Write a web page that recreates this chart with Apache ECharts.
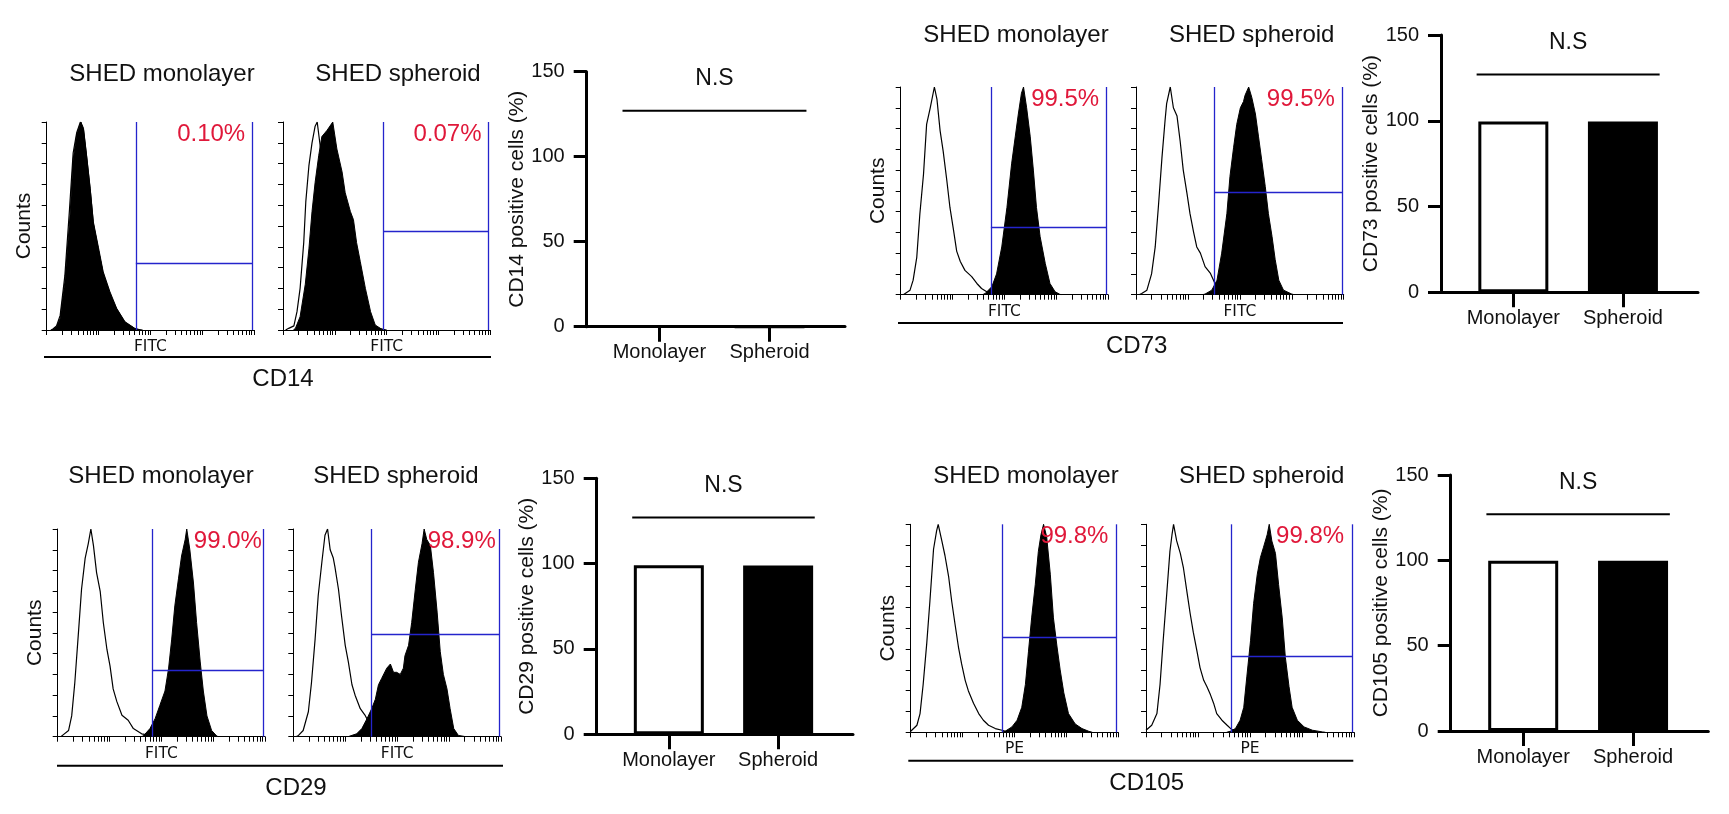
<!DOCTYPE html>
<html><head><meta charset="utf-8">
<script src="https://cdn.jsdelivr.net/npm/echarts@6/dist/echarts.min.js"></script>
<style>html,body{margin:0;padding:0;background:#fff}#c{width:1729px;height:814px}</style>
</head><body><div id="c"></div><script>
// ---------------- DATA ----------------
const markers = ['CD14', 'CD73', 'CD29', 'CD105'];
const channels = ['FITC', 'FITC', 'FITC', 'PE'];
const groups = ['SHED monolayer', 'SHED spheroid'];
const barCategories = ['Monolayer', 'Spheroid'];
const yTicksBar = [0, 50, 100, 150];

// percentage of positive cells (bar heights)
const cd14Bars = [0.10, 0.07];
const cd73Bars = [99.5, 99.5];
const cd29Bars = [99.0, 98.9];
const cd105Bars = [99.8, 99.8];
const sigLevel = 127;     // N.S bracket height (%)
const sigText = 'N.S';

// gate labels
const cd14Pct = ['0.10%', '0.07%'];
const cd73Pct = ['99.5%', '99.5%'];
const cd29Pct = ['99.0%', '98.9%'];
const cd105Pct = ['99.8%', '99.8%'];

// gates: [gate start (log10 decade), marker height (% of max counts)]
const cd14Gates = [[1.72, 32.2], [1.93, 47.6]];
const cd73Gates = [[1.74, 32.5], [1.51, 49.3]];
const cd29Gates = [[1.82, 32.1], [1.50, 49.4]];
const cd105Gates = [[1.77, 45.5], [1.635, 36.8]];

// histograms: [log10 fluorescence, % of max counts]
const cd14MonoIso = [[0.08,0],[0.12,0.5],[0.19,2],[0.26,7],[0.35,26],[0.44,58],[0.51,85],[0.58,95],[0.65,100],[0.71,96],[0.77,83],[0.84,67],[0.9,51],[1.0,38],[1.09,27],[1.22,17],[1.35,10],[1.51,3.5],[1.7,0.6],[1.85,0]];
const cd14MonoPos = [[0.1,0],[0.13,0.5],[0.19,1.6],[0.26,5.6],[0.35,23],[0.45,55],[0.51,82],[0.58,94],[0.66,100],[0.71,97],[0.77,84],[0.84,68],[0.9,52],[1.0,39.5],[1.09,28],[1.22,18.4],[1.35,10.4],[1.51,4],[1.7,0.8],[1.8,0]];
const cd14SphIso = [[0.05,0],[0.11,0.8],[0.21,2],[0.27,8.8],[0.33,20],[0.4,42],[0.44,61.7],[0.5,79],[0.56,90],[0.62,98],[0.66,100],[0.72,88],[0.8,70],[0.9,52],[1.0,38],[1.1,27],[1.25,16],[1.4,8],[1.6,3],[1.8,1],[2.0,0]];
const cd14SphPos = [[0.2,0],[0.24,0.8],[0.33,6.4],[0.43,22],[0.5,39],[0.56,57],[0.62,71],[0.69,84],[0.75,93],[0.85,96],[0.96,100],[1.04,87],[1.14,76],[1.2,66],[1.3,57],[1.36,53],[1.42,42],[1.49,33],[1.59,20],[1.69,8.8],[1.78,2.4],[1.91,0.3],[1.95,0]];
const cd73MonoIso = [[0.05,0],[0.08,0.6],[0.18,2.2],[0.24,7],[0.31,18],[0.37,39],[0.44,58],[0.5,82],[0.57,90],[0.65,100],[0.7,94],[0.76,79],[0.82,69],[0.89,55],[0.95,42],[1.02,31],[1.08,21],[1.15,16],[1.24,11.7],[1.37,8.7],[1.47,5.4],[1.56,3],[1.66,1.4],[1.76,0.6],[1.85,0]];
const cd73MonoPos = [[1.58,0],[1.63,0.6],[1.76,3.9],[1.85,10],[1.95,23],[2.05,42],[2.14,63],[2.21,76],[2.27,87],[2.33,97],[2.37,100],[2.43,90],[2.5,76],[2.56,60],[2.62,42],[2.69,28],[2.79,15],[2.88,5.4],[2.98,1.4],[3.07,0.2],[3.1,0]];
const cd73SphIso = [[0.06,0],[0.11,0.6],[0.21,2.2],[0.3,10],[0.37,23],[0.43,42],[0.5,66],[0.56,84],[0.59,92],[0.66,100],[0.72,90],[0.79,86],[0.85,74],[0.91,60],[0.98,49],[1.04,39],[1.11,30],[1.17,23],[1.24,20],[1.33,13.5],[1.43,10.4],[1.51,6],[1.62,2.2],[1.78,0.3],[1.85,0]];
const cd73SphPos = [[1.28,0],[1.33,0.3],[1.46,2.2],[1.56,7],[1.65,20],[1.75,39],[1.81,57],[1.88,71],[1.94,82],[2.01,90],[2.07,93],[2.1,96],[2.17,100],[2.23,95],[2.3,87],[2.36,76],[2.42,65],[2.49,52],[2.55,39],[2.62,28],[2.68,17],[2.75,7],[2.84,2.2],[3.0,0.3],[3.05,0]];
const cd29MonoIso = [[0.06,0],[0.11,1],[0.21,3],[0.27,10],[0.33,26],[0.4,50],[0.46,71],[0.53,86],[0.59,93],[0.64,100],[0.69,92],[0.75,79],[0.82,70],[0.88,55],[0.95,42],[1.01,34],[1.07,23],[1.14,17],[1.24,10.3],[1.36,7.9],[1.46,3.9],[1.62,1.4],[1.78,0.6],[1.85,0]];
const cd29MonoPos = [[1.6,0],[1.65,0.3],[1.78,3.9],[1.88,8.7],[1.97,15],[2.07,22],[2.14,33],[2.2,47],[2.26,63],[2.33,76],[2.39,87],[2.46,95],[2.49,100],[2.55,90],[2.62,74],[2.68,55],[2.75,36],[2.81,22],[2.88,10],[2.97,3],[3.07,0.3],[3.1,0]];
const cd29SphIso = [[0.05,0],[0.1,0.6],[0.19,3],[0.29,12],[0.35,26],[0.42,47],[0.48,68],[0.55,84],[0.61,97],[0.66,100],[0.71,90],[0.77,86],[0.8,82],[0.87,71],[0.93,58],[1.0,44],[1.06,36],[1.13,25],[1.19,20],[1.29,13.5],[1.38,10.4],[1.48,5.5],[1.58,2.2],[1.74,0.3],[1.8,0]];
const cd29SphPos = [[1.05,0],[1.09,0.3],[1.22,1.4],[1.32,3.9],[1.42,8.7],[1.51,13.5],[1.58,18],[1.64,25],[1.7,28],[1.8,33],[1.87,35],[1.93,31],[1.99,31],[2.06,30],[2.12,33],[2.15,39],[2.22,44],[2.28,55],[2.35,71],[2.41,84],[2.48,93],[2.52,100],[2.57,95],[2.64,92],[2.7,79],[2.77,60],[2.83,41],[2.89,30],[2.96,23],[3.02,13.5],[3.09,3.9],[3.18,0.6],[3.28,0.2],[3.32,0]];
const cd105MonoIso = [[0.0,0.5],[0.02,1],[0.12,3.4],[0.18,9],[0.24,23],[0.31,43],[0.37,63],[0.44,88],[0.5,97],[0.53,100],[0.6,92],[0.66,85],[0.73,75],[0.79,63],[0.86,51],[0.92,41],[0.98,33],[1.05,25],[1.11,20],[1.21,14],[1.31,9],[1.4,5.8],[1.5,3.4],[1.63,1.8],[1.76,1],[1.9,0]];
const cd105MonoPos = [[1.75,0],[1.82,0.5],[1.95,2.6],[2.05,5.8],[2.14,12],[2.21,23],[2.27,39],[2.33,55],[2.4,71],[2.46,87],[2.51,95],[2.56,100],[2.62,94],[2.69,76],[2.75,55],[2.82,41],[2.88,30],[2.95,19],[3.04,9],[3.17,4],[3.3,1.8],[3.43,0.5],[3.5,0]];
const cd105SphIso = [[0.0,1],[0.01,1.3],[0.11,3.4],[0.21,9],[0.27,23],[0.33,44],[0.4,67],[0.46,87],[0.5,95],[0.53,100],[0.59,92],[0.66,86],[0.72,79],[0.79,67],[0.85,57],[0.91,48],[0.98,39],[1.04,31],[1.11,25],[1.17,22],[1.24,18],[1.3,14],[1.36,9],[1.46,5.8],[1.56,3.4],[1.65,1.3],[1.75,0]];
const cd105SphPos = [[1.55,0],[1.62,0.5],[1.72,1.8],[1.81,5.8],[1.88,12],[1.94,27],[2.01,44],[2.07,62],[2.14,76],[2.2,84],[2.26,89],[2.33,95],[2.37,100],[2.42,92],[2.49,86],[2.55,71],[2.62,55],[2.68,36],[2.75,22],[2.81,12],[2.91,5.8],[3.04,2.6],[3.2,1],[3.39,0.2],[3.45,0]];

// ---------------- ASSEMBLY ----------------
const FONT = '"Liberation Sans", Arial, Helvetica, sans-serif';
const RED = '#e0183a', BLUE = '#2424cc', INK = '#111';

const histCurves = [
  [cd14MonoIso, cd14MonoPos], [cd14SphIso, cd14SphPos],
  [cd73MonoIso, cd73MonoPos], [cd73SphIso, cd73SphPos],
  [cd29MonoIso, cd29MonoPos], [cd29SphIso, cd29SphPos],
  [cd105MonoIso, cd105MonoPos], [cd105SphIso, cd105SphPos]
];
const gatesByMarker = [cd14Gates, cd73Gates, cd29Gates, cd105Gates];
const pctByMarker = [cd14Pct, cd73Pct, cd29Pct, cd105Pct];
const barsByMarker = [cd14Bars, cd73Bars, cd29Bars, cd105Bars];

// layout (pixels)
const histLayout = [
  {m:0,g:0,left:46.7,top:122,w:207.3,h:208, px:3.83, tx:162, ty:74},
  {m:0,g:1,left:283,top:122,w:207.3,h:208, px:3.83, tx:398, ty:74},
  {m:1,g:0,left:900.7,top:87,w:207.3,h:207.7, px:3.83, tx:1016, ty:35},
  {m:1,g:1,left:1136,top:87,w:207.7,h:207.7, px:3.83, tx:1251.7, ty:35},
  {m:2,g:0,left:57.7,top:529,w:207.3,h:207.7, px:3.94, tx:161, ty:476.7},
  {m:2,g:1,left:293.3,top:529,w:207.7,h:207.7, px:3.9, tx:396, ty:476.7},
  {m:3,g:0,left:910.7,top:524.3,w:207.6,h:208, px:3.81, tx:1026, ty:476},
  {m:3,g:1,left:1146,top:524.3,w:208,h:208, px:3.81, tx:1261.7, ty:476}
];
const barLayout = [
  {left:586.7, top:71.7, w:258.3, h:255},
  {left:1441, top:35, w:257, h:257.3},
  {left:596.7, top:478.3, w:256.3, h:256},
  {left:1450.7, top:475, w:257.6, h:256}
];
const markerLabel = [[283,379,44,491,357],[1136.7,346.7,898,1343,323],[296,788,57,503,765.7],[1146.7,783.3,908.3,1353.3,760.7]];

const logTicks = [];
for (let d = 0; d < 4; d++) for (let k = 1; k <= 9; k++) logTicks.push(d + Math.log10(k));
logTicks.push(4);
const gateRight = 3.97;

const grid = [], xAxis = [], yAxis = [], series = [], graphic = [];

histLayout.forEach((L, i) => {
  grid.push({left: L.left, top: L.top, width: L.w, height: L.h});
  xAxis.push({
    type: 'value', gridIndex: i, min: 0, max: 4,
    axisLine: {show: true, onZero: false, lineStyle: {color: '#000', width: 1}},
    axisTick: {show: true, customValues: logTicks, length: 5, lineStyle: {color: '#000', width: 1}},
    axisLabel: {show: false}, splitLine: {show: false},
    name: channels[L.m], nameLocation: 'middle', nameGap: 9,
    nameTextStyle: {fontFamily: '"DejaVu Sans", Verdana, sans-serif', fontSize: 15.5, color: INK}
  });
  yAxis.push({
    type: 'value', gridIndex: i, min: 0, max: 100, interval: 10,
    axisLine: {show: true, onZero: false, lineStyle: {color: '#000', width: 1}},
    axisTick: {show: true, length: 5, lineStyle: {color: '#000', width: 1}},
    axisLabel: {show: false}, splitLine: {show: false},
    name: L.g === 0 ? 'Counts' : '', nameLocation: 'middle', nameRotate: 90, nameGap: 12,
    nameTextStyle: {fontFamily: FONT, fontSize: 21, color: INK}
  });
  const [iso, pos] = histCurves[i];
  const [gx, gy] = gatesByMarker[L.m][L.g];
  series.push({
    type: 'line', xAxisIndex: i, yAxisIndex: i, data: pos, showSymbol: false, silent: true,
    lineStyle: {color: '#000', width: 1}, areaStyle: {color: '#000', opacity: 1}, z: 2
  });
  series.push({
    type: 'line', xAxisIndex: i, yAxisIndex: i, data: iso, showSymbol: false, silent: true,
    lineStyle: {color: '#000', width: 1.2}, z: 3,
    markLine: {
      silent: true, symbol: 'none', animation: false,
      lineStyle: {color: BLUE, width: 1.3, type: 'solid'}, label: {show: false},
      data: [
        [{coord: [gx, 0]}, {coord: [gx, 100]}],
        [{coord: [gateRight, 0]}, {coord: [gateRight, 100]}],
        [{coord: [gx, gy]}, {coord: [gateRight, gy]}]
      ]
    }
  });
  series.push({
    type: 'scatter', xAxisIndex: i, yAxisIndex: i, data: [[L.px, 94]], symbolSize: 0, silent: true, z: 6,
    itemStyle: {color: RED, opacity: 1},
    label: {show: true, position: 'left', distance: 0, formatter: pctByMarker[L.m][L.g],
      color: RED, fontSize: 24, fontFamily: FONT, textBorderWidth: 0, opacity: 1}
  });
  graphic.push({type: 'text', x: L.tx, y: L.ty, style: {text: groups[L.g], fontSize: 24, fontFamily: FONT,
    fill: INK, align: 'center', verticalAlign: 'middle', textAlign: 'center', textVerticalAlign: 'middle'}});
});

barLayout.forEach((B, j) => {
  const idx = histLayout.length + j;
  grid.push({left: B.left, top: B.top, width: B.w, height: B.h});
  xAxis.push({
    type: 'value', gridIndex: idx, min: -0.66, max: 1.685,
    axisLine: {show: true, onZero: false, lineStyle: {color: '#000', width: 3}},
    axisTick: {show: true, customValues: [0, 1], length: 15, lineStyle: {color: '#000', width: 3}},
    axisLabel: {show: true, customValues: [0, 1], formatter: v => barCategories[Math.round(v)],
      fontSize: 20, color: INK, fontFamily: FONT, margin: 16},
    splitLine: {show: false}
  });
  yAxis.push({
    type: 'value', gridIndex: idx, min: 0, max: 150, interval: 50,
    axisLine: {show: true, onZero: false, lineStyle: {color: '#000', width: 3}},
    axisTick: {show: true, length: 13, lineStyle: {color: '#000', width: 3}},
    axisLabel: {show: true, fontSize: 20, color: INK, fontFamily: FONT, margin: 22,
      customValues: yTicksBar},
    splitLine: {show: false},
    name: markers[j] + ' positive cells (%)', nameLocation: 'middle', nameRotate: 90, nameGap: 56,
    nameTextStyle: {fontSize: 21, color: INK, fontFamily: FONT}
  });
  const vals = barsByMarker[j];
  series.push({
    type: 'bar', xAxisIndex: idx, yAxisIndex: idx, barWidth: 70, silent: true,
    itemStyle: {borderColor: '#000', borderWidth: 3},
    data: vals.map((v, k) => ({value: [k, v], itemStyle: {color: k === 0 ? '#fff' : '#000'}}))
  });
  const half = 0.335;
  series.push({
    type: 'line', xAxisIndex: idx, yAxisIndex: idx, showSymbol: false, silent: true,
    data: [[0 - half, sigLevel], [1 + half, sigLevel]], lineStyle: {color: '#000', width: 2}
  });
  series.push({
    type: 'scatter', xAxisIndex: idx, yAxisIndex: idx, data: [[0.5, 145.8]], symbolSize: 0, silent: true,
    itemStyle: {color: INK, opacity: 1},
    label: {show: true, position: [0, 0], align: 'center', verticalAlign: 'middle', formatter: sigText,
      fontSize: 23, color: INK, fontFamily: FONT, textBorderWidth: 0, opacity: 1}
  });
});

markerLabel.forEach((M, k) => {
  graphic.push({type: 'line', shape: {x1: M[2], y1: M[4], x2: M[3], y2: M[4]}, style: {stroke: '#000', lineWidth: 2}});
  graphic.push({type: 'text', x: M[0], y: M[1], style: {text: markers[k], fontSize: 24, fontFamily: FONT,
    fill: INK, align: 'center', verticalAlign: 'middle', textAlign: 'center', textVerticalAlign: 'middle'}});
});

const chart = echarts.init(document.getElementById('c'), null, {renderer: 'canvas'});
chart.setOption({
  backgroundColor: '#fff', animation: false,
  textStyle: {fontFamily: FONT},
  grid, xAxis, yAxis, series, graphic
});
</script></body></html>
